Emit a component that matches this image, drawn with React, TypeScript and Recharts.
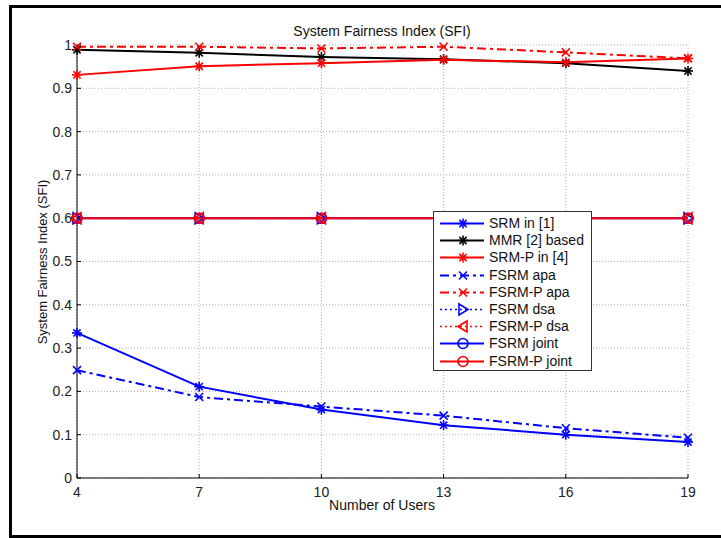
import React from 'react';
import { LineChart, Line, XAxis, YAxis, CartesianGrid, Legend } from 'recharts';

// values
const users = [4, 7, 10, 13, 16, 19];
const srm = [0.335, 0.211, 0.158, 0.122, 0.1, 0.083];
const mmr = [0.989, 0.982, 0.972, 0.967, 0.958, 0.94];
const srmP = [0.931, 0.951, 0.958, 0.966, 0.96, 0.969];
const fsrmApa = [0.249, 0.187, 0.165, 0.144, 0.115, 0.093];
const fsrmPApa = [0.996, 0.996, 0.992, 0.996, 0.983, 0.969];
const fsrmDsa = [0.6, 0.6, 0.6, 0.6, 0.6, 0.6];
const fsrmPDsa = [0.6, 0.6, 0.6, 0.6, 0.6, 0.6];
const fsrmJoint = [0.6, 0.6, 0.6, 0.6, 0.6, 0.6];
const fsrmPJoint = [0.6, 0.6, 0.6, 0.6, 0.6, 0.6];

const xTicks = [4, 7, 10, 13, 16, 19];
const yTicks = [0, 0.1, 0.2, 0.3, 0.4, 0.5, 0.6, 0.7, 0.8, 0.9, 1];

const data = users.map((u, i) => ({
  users: u,
  srm: srm[i],
  mmr: mmr[i],
  srmP: srmP[i],
  fsrmApa: fsrmApa[i],
  fsrmPApa: fsrmPApa[i],
  fsrmDsa: fsrmDsa[i],
  fsrmPDsa: fsrmPDsa[i],
  fsrmJoint: fsrmJoint[i],
  fsrmPJoint: fsrmPJoint[i],
}));

type MarkerKind = 'star' | 'x' | 'triR' | 'triL' | 'circle';

const BLUE = '#0000ff';
const RED = '#ff0000';
const BLACK = '#000000';
const DASHDOT = '9 4 3 4';
const DOTTED = '2 3';

const series: { key: string; name: string; color: string; dash?: string; marker: MarkerKind; width: number }[] = [
  { key: 'srm', name: 'SRM in [1]', color: BLUE, marker: 'star', width: 2 },
  { key: 'mmr', name: 'MMR [2] based', color: BLACK, marker: 'star', width: 2 },
  { key: 'srmP', name: 'SRM-P in [4]', color: RED, marker: 'star', width: 2 },
  { key: 'fsrmApa', name: 'FSRM apa', color: BLUE, dash: DASHDOT, marker: 'x', width: 2 },
  { key: 'fsrmPApa', name: 'FSRM-P apa', color: RED, dash: DASHDOT, marker: 'x', width: 2 },
  { key: 'fsrmDsa', name: 'FSRM dsa', color: BLUE, dash: DOTTED, marker: 'triR', width: 1.5 },
  { key: 'fsrmPDsa', name: 'FSRM-P dsa', color: RED, dash: DOTTED, marker: 'triL', width: 1.5 },
  { key: 'fsrmJoint', name: 'FSRM joint', color: BLUE, marker: 'circle', width: 2 },
  { key: 'fsrmPJoint', name: 'FSRM-P joint', color: RED, marker: 'circle', width: 2 },
];

const FONT = '"Liberation Sans", Arial, sans-serif';

function Marker({ cx, cy, kind, color }: { cx?: number; cy?: number; kind: MarkerKind; color: string }) {
  if (cx == null || cy == null) return <g />;
  const sw = 1.6;
  if (kind === 'star') {
    const r = 5;
    const d = 3.6;
    return (
      <g stroke={color} strokeWidth={sw} fill="none">
        <line x1={cx - r} x2={cx + r} y1={cy} y2={cy} />
        <line x1={cx} x2={cx} y1={cy - r} y2={cy + r} />
        <line x1={cx - d} x2={cx + d} y1={cy - d} y2={cy + d} />
        <line x1={cx - d} x2={cx + d} y1={cy + d} y2={cy - d} />
      </g>
    );
  }
  if (kind === 'x') {
    const d = 4;
    return (
      <g stroke={color} strokeWidth={sw} fill="none">
        <line x1={cx - d} x2={cx + d} y1={cy - d} y2={cy + d} />
        <line x1={cx - d} x2={cx + d} y1={cy + d} y2={cy - d} />
      </g>
    );
  }
  if (kind === 'triR') {
    return (
      <polygon
        points={`${cx + 5},${cy} ${cx - 4},${cy - 5.5} ${cx - 4},${cy + 5.5}`}
        stroke={color}
        strokeWidth={sw}
        fill="none"
      />
    );
  }
  if (kind === 'triL') {
    return (
      <polygon
        points={`${cx - 5},${cy} ${cx + 4},${cy - 5.5} ${cx + 4},${cy + 5.5}`}
        stroke={color}
        strokeWidth={sw}
        fill="none"
      />
    );
  }
  return <circle cx={cx} cy={cy} r={5} stroke={color} strokeWidth={sw} fill="none" />;
}

const LegendBox = () => (
  <div
    style={{
      width: 159,
      height: 160,
      border: '1px solid #333',
      background: '#fff',
      paddingTop: 3,
      boxSizing: 'border-box',
      fontFamily: FONT,
      fontSize: 14,
      color: '#111',
    }}
  >
    {series.map((s) => (
      <div key={s.key} style={{ display: 'flex', alignItems: 'center', height: 17.2 }}>
        <svg width={52} height={17} style={{ flex: 'none' }}>
          <line x1={6} x2={50} y1={8.5} y2={8.5} stroke={s.color} strokeWidth={s.width} strokeDasharray={s.dash} />
          <Marker cx={29} cy={8.5} kind={s.marker} color={s.color} />
        </svg>
        <span style={{ marginLeft: 3, whiteSpace: 'nowrap', lineHeight: '17px' }}>{s.name}</span>
      </div>
    ))}
  </div>
);

export default function App() {
  return (
    <div style={{ position: 'absolute', left: 0, top: 0, width: 721, height: 538, background: '#fff', overflow: 'hidden', fontFamily: FONT }}>
      {/* figure frame */}
      <div
        style={{
          position: 'absolute',
          left: 9,
          top: 5,
          width: 730,
          height: 533,
          borderLeft: '3px solid #000',
          borderTop: '3px solid #000',
          borderBottom: '3px solid #000',
          boxSizing: 'border-box',
        }}
      />
      <div style={{ position: 'absolute', left: 0, top: 0 }}>
        <LineChart width={721} height={538} data={data} margin={{ top: 45, right: 33, bottom: 30, left: 37 }}>
          <CartesianGrid stroke="#b0b0b0" strokeDasharray="1 2" ticks={undefined} />
          <XAxis
            dataKey="users"
            type="number"
            domain={[4, 19]}
            ticks={xTicks}
            height={30}
            tickSize={-4}
            tickMargin={13}
            axisLine={{ stroke: '#000' }}
            tickLine={{ stroke: '#000' }}
            tick={{ fill: '#222', fontSize: 14, fontFamily: FONT }}
            interval={0}
          />
          <YAxis
            type="number"
            domain={[0, 1]}
            ticks={yTicks}
            width={40}
            tickSize={-4}
            tickMargin={9}
            axisLine={{ stroke: '#000' }}
            tickLine={{ stroke: '#000' }}
            tick={{ fill: '#222', fontSize: 14, fontFamily: FONT }}
            tickFormatter={(v: number) => String(v)}
            interval={0}
          />
          {series.map((s) => (
            <Line
              key={s.key}
              dataKey={s.key}
              name={s.name}
              type="linear"
              stroke={s.color}
              strokeWidth={s.width}
              strokeDasharray={s.dash}
              isAnimationActive={false}
              dot={(p: any) => (
                <Marker key={`${s.key}-${p.index}`} cx={p.cx} cy={p.cy} kind={s.marker} color={s.color} />
              )}
              activeDot={false}
            />
          ))}
          <Legend
            layout="vertical"
            align="center"
            verticalAlign="middle"
            content={() => <LegendBox />}
            wrapperStyle={{ left: 433, top: 211, width: 159, height: 160 }}
          />
        </LineChart>
      </div>
      {/* title and axis labels */}
      <div style={{ position: 'absolute', left: 382, top: 31, transform: 'translate(-50%, -50%)', fontSize: 14, color: '#111', whiteSpace: 'nowrap' }}>
        System Fairness Index (SFI)
      </div>
      <div style={{ position: 'absolute', left: 382, top: 505, transform: 'translate(-50%, -50%)', fontSize: 14, color: '#111', whiteSpace: 'nowrap' }}>
        Number of Users
      </div>
      <div
        style={{
          position: 'absolute',
          left: 42,
          top: 262,
          transform: 'translate(-50%, -50%) rotate(-90deg)',
          fontSize: 13,
          color: '#111',
          whiteSpace: 'nowrap',
        }}
      >
        System Fairness Index (SFI)
      </div>
    </div>
  );
}
